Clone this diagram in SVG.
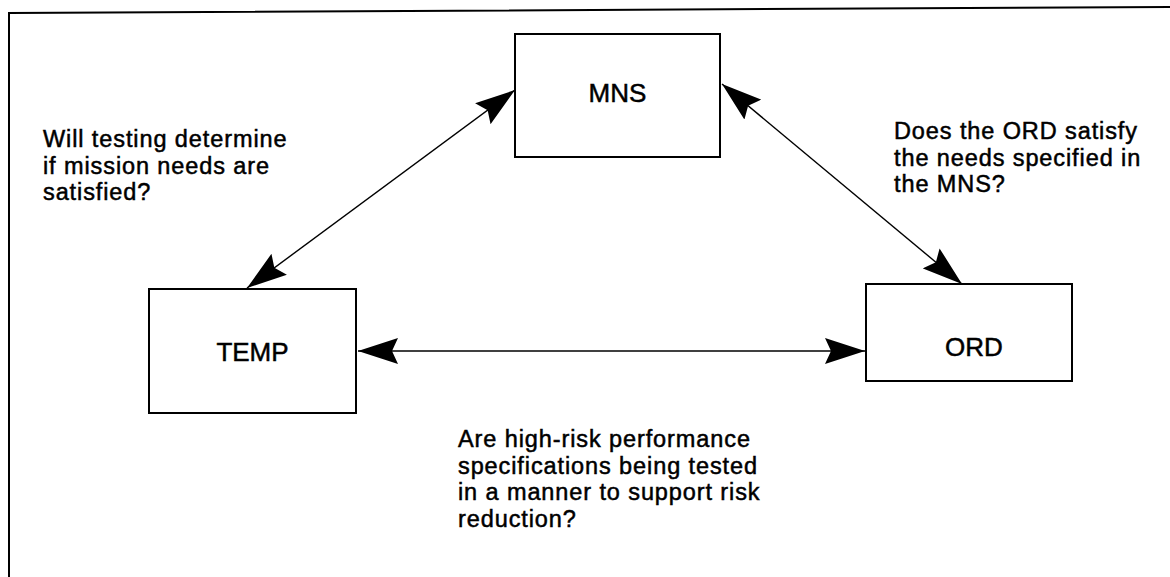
<svg xmlns="http://www.w3.org/2000/svg" width="1170" height="577" viewBox="0 0 1170 577">
<style>
.box{fill:#fff;stroke:#000;stroke-width:2}
.lbl{font-family:"Liberation Sans",Arial,Helvetica,sans-serif;font-size:26px;fill:#000;stroke:#000;stroke-width:0.5}
.q{font-family:"Liberation Sans",Arial,Helvetica,sans-serif;font-size:23.5px;letter-spacing:0.9px;fill:#000;stroke:#000;stroke-width:0.5}
.conn{stroke:#000;stroke-width:1.4;fill:none;marker-start:url(#ah);marker-end:url(#ah)}
</style>
<defs>
<marker id="ah" markerUnits="userSpaceOnUse" markerWidth="40" markerHeight="26" refX="40" refY="13" orient="auto-start-reverse" viewBox="0 0 40 26">
<path d="M0,0 L40,13 L0,26 L6,13 Z" fill="#000"/>
</marker>
</defs>
<rect width="1170" height="577" fill="#fff"/>
<polyline points="9,577 9,13 1170,7" fill="none" stroke="#000" stroke-width="2"/>
<g id="connectors">
<line class="conn" x1="515" y1="90" x2="247" y2="288"/>
<line class="conn" x1="722" y1="84" x2="962" y2="284"/>
<line class="conn" x1="358" y1="351" x2="865" y2="351"/>
</g>
<g id="MNS">
<rect class="box" x="515" y="34" width="205" height="123"/>
<text class="lbl" x="617.5" y="102" text-anchor="middle">MNS</text>
</g>
<g id="TEMP">
<rect class="box" x="149" y="289" width="207" height="124"/>
<text class="lbl" x="252.5" y="361" text-anchor="middle">TEMP</text>
</g>
<g id="ORD">
<rect class="box" x="866" y="284" width="206" height="97"/>
<text class="lbl" x="974" y="356" text-anchor="middle">ORD</text>
</g>
<g id="q-temp-mns">
<text class="q" x="43" y="147">Will testing determine</text>
<text class="q" x="43" y="173.5">if mission needs are</text>
<text class="q" x="43" y="200">satisfied?</text>
</g>
<g id="q-ord-mns">
<text class="q" x="894" y="139">Does the ORD satisfy</text>
<text class="q" x="894" y="165.5">the needs specified in</text>
<text class="q" x="894" y="192">the MNS?</text>
</g>
<g id="q-temp-ord">
<text class="q" x="458" y="447">Are high-risk performance</text>
<text class="q" x="458" y="473.5">specifications being tested</text>
<text class="q" x="458" y="500">in a manner to support risk</text>
<text class="q" x="458" y="526.5">reduction?</text>
</g>
</svg>
